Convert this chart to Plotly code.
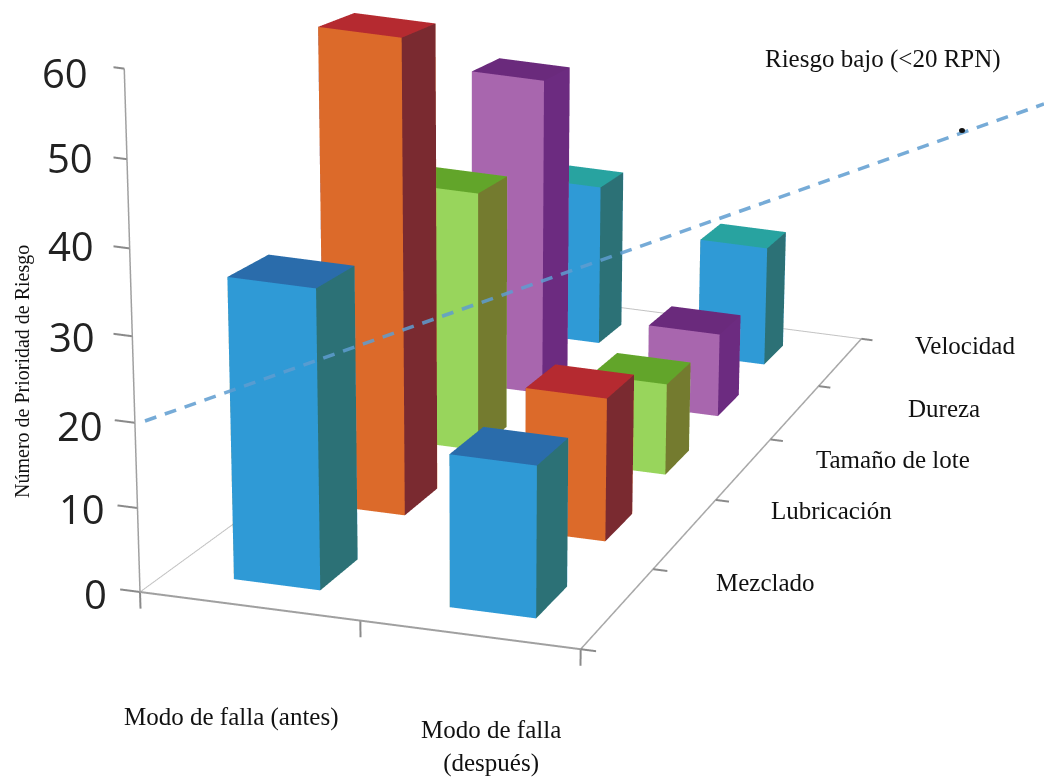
import numpy as np
import plotly.graph_objects as go

W, H = 1044, 781

# Risk priority numbers for each failure mode, before and after the improvement
modes = ["Mezclado", "Lubricación", "Tamaño de lote", "Dureza", "Velocidad"]
stages = ["Modo de falla (antes)", "Modo de falla<br>(después)"]
rpn_before = [36, 60, 35, 45, 24]
rpn_after = [18.5, 18.5, 12.5, 12, 18]
z_ticks = [0, 10, 20, 30, 40, 50, 60]
risk_limit_label = "Riesgo bajo (<20 RPN)"
z_title = "Número de Prioridad de Riesgo"

# front, side and top colours per failure mode
palette = {
    "Mezclado": ("#2f9ad6", "#2c7176", "#2a6cab"),
    "Lubricación": ("#dc6a2a", "#7a2a30", "#b52a30"),
    "Tamaño de lote": ("#98d55c", "#747b2f", "#62a52a"),
    "Dureza": ("#a866ae", "#6c2b80", "#6a2a7c"),
    "Velocidad": ("#2f9ad6", "#2c7176", "#28a3a0"),
}

BAR_W = 0.2
BAR_D = 0.2
ROW_DRIFT = 0.025

# Foreshortening: the scene camera's own field of view is too wide for this chart,
# so an orthographic camera is used and depth is folded into the coordinates.
PIVOT_X = 1.54
DEPTH_Q = 0.078
HEIGHT_R = 0.00074


def foreshorten(x, y, z):
    x, y, z = np.asarray(x, float), np.asarray(y, float), np.asarray(z, float)
    w = 1 + DEPTH_Q * y - HEIGHT_R * z
    return PIVOT_X + (x - PIVOT_X) / w, y / w, z / w


def bar(xc, yc, height, colors):
    front, side, top = colors
    x0, x1 = xc - BAR_W, xc + BAR_W
    y0, y1 = yc - BAR_D, yc + BAR_D
    xs = [x0, x1, x1, x0, x0, x1, x1, x0]
    ys = [y0, y0, y1, y1, y0, y0, y1, y1]
    zs = [0, 0, 0, 0, height, height, height, height]
    xs, ys, zs = foreshorten(xs, ys, zs)
    i = [0, 0, 1, 1, 4, 4, 3, 3, 0, 0, 2, 2]
    j = [1, 5, 2, 6, 5, 6, 2, 6, 3, 7, 3, 7]
    k = [5, 4, 6, 5, 6, 7, 6, 7, 7, 4, 7, 6]
    face = [front] * 2 + [side] * 2 + [top] * 2 + [front] * 2 + [side] * 2 + [front] * 2
    return go.Mesh3d(
        x=xs, y=ys, z=zs, i=i, j=j, k=k, facecolor=face, flatshading=True,
        lighting=dict(ambient=1, diffuse=0, specular=0, fresnel=0, roughness=1),
        hoverinfo="skip", showscale=False,
    )


def stroke(points, color, width):
    xs, ys, zs = foreshorten(*zip(*points))
    return go.Scatter3d(x=xs, y=ys, z=zs, mode="lines", line=dict(color=color, width=width),
                        hoverinfo="skip", showlegend=False)


fig = go.Figure()

# floor outline and the value axis
fig.add_trace(stroke([(0, 0, 0), (0, 5, 0), (2, 5, 0)], "#c2c2c2", 2))
fig.add_trace(stroke([(0, 0, 0), (2, 0, 0)], "#a0a0a0", 4))
fig.add_trace(stroke([(2, 0, 0), (2, 5, 0)], "#a8a8a8", 3))
fig.add_trace(stroke([(0, 0, 0), (0, 0, 60)], "#a0a0a0", 3))

# tick stubs
for t in z_ticks:
    fig.add_trace(stroke([(-0.09, 0, t), (0, 0, t)], "#8a8a8a", 4))
for t in [0, 1, 2]:
    fig.add_trace(stroke([(t, 0, 0), (t, 0, -2)], "#8a8a8a", 4))
for t in range(6):
    fig.add_trace(stroke([(2, t, 0), (2.07, t, 0)], "#8a8a8a", 4))

for n, mode in enumerate(modes):
    row = n + 0.465
    fig.add_trace(bar(0.5 - ROW_DRIFT * n, row, rpn_before[n], palette[mode]))
    fig.add_trace(bar(1.5 - ROW_DRIFT * n, row, rpn_after[n], palette[mode]))

# Scene box in folded coordinates and its size in scene units
x_range = np.array([-0.12, 2.12])
y_range = np.array([-0.02, 3.65])
z_range = np.array([-3.0, 66.0])
unit = np.array([0.6, 0.647, 0.02278])
mid = np.array([x_range.mean(), y_range.mean(), z_range.mean()])
aspect = unit * np.array([np.ptp(x_range), np.ptp(y_range), np.ptp(z_range)])

# Viewing direction, and a camera centre that puts the axis origin at (140, 592)
view = np.array([0.3176, -0.878, 0.359])
view = view / np.linalg.norm(view)
right = np.cross(-view, [0, 0, 1])
right = right / np.linalg.norm(right)
upward = np.cross(right, -view)
origin = (np.array(foreshorten(0, 0, 0)) - mid) * unit
half_h = H / 2
center = origin - right * (140 - W / 2) / half_h + upward * (592 - half_h) / half_h
eye = center + view * 4

hidden = dict(visible=False, showgrid=False, zeroline=False, showspikes=False)

fig.update_layout(
    width=W, height=H, margin=dict(l=0, r=0, t=0, b=0), paper_bgcolor="white",
    showlegend=False,
    scene=dict(
        domain=dict(x=[0, 1], y=[0, 1]),
        xaxis=dict(range=list(x_range), **hidden),
        yaxis=dict(range=list(y_range), **hidden),
        zaxis=dict(range=list(z_range), **hidden),
        aspectmode="manual",
        aspectratio=dict(x=aspect[0], y=aspect[1], z=aspect[2]),
        camera=dict(
            up=dict(x=0, y=0, z=1),
            center=dict(x=center[0], y=center[1], z=center[2]),
            eye=dict(x=eye[0], y=eye[1], z=eye[2]),
            projection=dict(type="orthographic"),
        ),
    ),
)


def px(x, y):
    return dict(x=x / W, y=1 - y / H, xref="paper", yref="paper", showarrow=False,
                xanchor="center", yanchor="middle")


serif = dict(family="Liberation Serif", color="#111111", size=25)
mode_pos = [(765, 582), (831, 510), (893, 459), (944, 408), (965, 345)]
for name, (x, y) in zip(modes, mode_pos):
    fig.add_annotation(text=name, font=serif, **px(x, y))
fig.add_annotation(text=stages[0], font=serif, **px(231, 717))
fig.add_annotation(text=stages[1], font=serif, **px(491, 746))
fig.add_annotation(text=risk_limit_label, font=serif, **px(883, 59))
fig.add_annotation(text=z_title, textangle=-90, font=dict(family="Liberation Serif", size=20, color="#111111"),
                   **px(22, 372))

# z tick labels sit beside the axis
tick_pos = [(95, 593), (82, 508), (80, 425), (72, 336), (71, 245), (70, 158), (65, 73)]
for tick, (x, y) in zip(z_ticks, tick_pos):
    fig.add_annotation(text=str(tick), font=dict(family="Open Sans", size=40, color="#222222"), **px(x, y))

# the 20 RPN threshold runs in front of the bars
fig.add_shape(type="line", xref="paper", yref="paper", layer="above",
              x0=145 / W, y0=1 - 421 / H, x1=1044 / W, y1=1 - 104 / H,
              line=dict(color="#5f9dd0", width=3.5, dash="12px,9px"), opacity=0.85)
# small arrowhead sitting on the threshold line
fig.add_shape(type="circle", xref="paper", yref="paper", layer="above",
              x0=959 / W, y0=1 - 133 / H, x1=965 / W, y1=1 - 128 / H,
              line=dict(width=0), fillcolor="#111111")

fig.write_html("out.html")
